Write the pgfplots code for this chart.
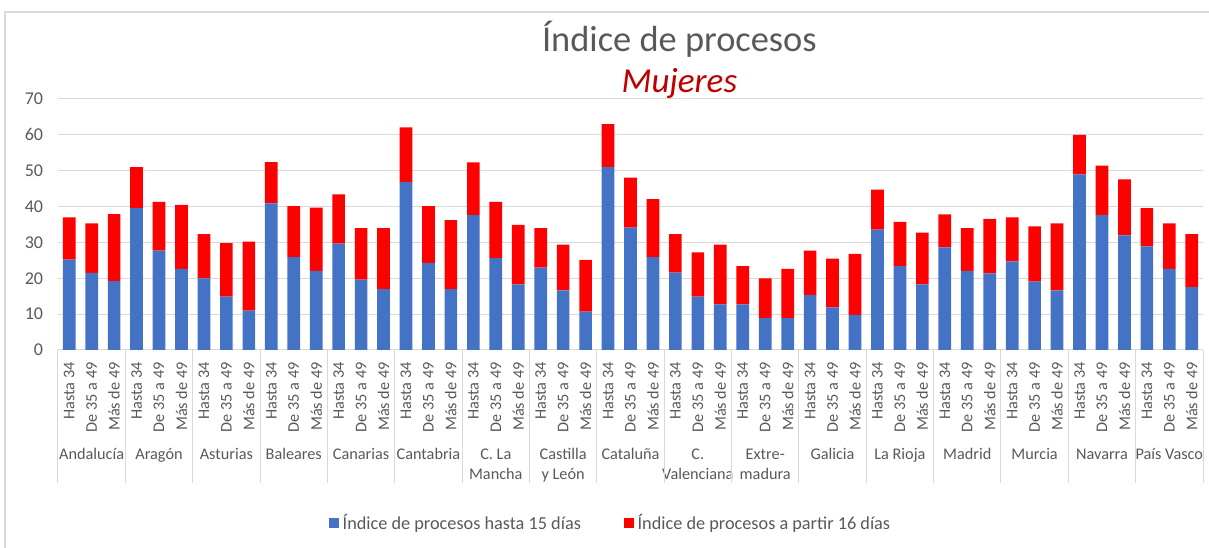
\documentclass[border=0pt]{standalone}
\usepackage{fontspec}
\setmainfont{Carlito}
\usepackage{pgfplots}
\usepackage{pgfplotstable}
\pgfplotsset{compat=1.18}
\definecolor{cblue}{HTML}{4472C4}
\definecolor{cred}{HTML}{FF0000}
\definecolor{cgrid}{HTML}{D9D9D9}
\definecolor{ctext}{HTML}{595959}
\definecolor{ctitle}{HTML}{C00000}
\tikzset{
  lab/.style={anchor=base, text=ctext, font=\fontsize{12.2}{14}\selectfont, yshift=-82pt},
  labb/.style={anchor=base, text=ctext, font=\fontsize{12.2}{14}\selectfont, yshift=-97pt},
}

\pgfplotstableread{
b r
25.2 11.8
21.5 13.8
19.2 18.7
39.6 11.4
27.7 13.6
22.6 17.9
20.0 12.3
14.9 14.9
11.0 19.2
40.9 11.5
25.9 14.2
22.1 17.6
29.7 13.7
19.6 14.4
17.0 17.0
46.8 15.3
24.3 15.8
17.0 19.2
37.6 14.7
25.6 15.7
18.3 16.6
23.0 11.0
16.6 12.8
10.7 14.4
51.1 11.9
34.1 14.0
25.9 16.2
21.6 10.7
14.9 12.3
12.7 16.7
12.7 10.7
8.9 11.1
8.9 13.7
15.3 12.4
11.9 13.6
9.8 17.0
33.6 11.1
23.4 12.3
18.3 14.4
28.6 9.2
22.1 11.9
21.4 15.2
24.7 12.3
19.1 15.4
16.6 18.7
49.0 11.0
37.6 13.8
32.0 15.6
28.9 10.7
22.6 12.7
17.5 14.8
}\datatable

\begin{document}
\begin{tikzpicture}
\useasboundingbox (-43.5pt,-148.5pt) rectangle (863.25pt,262.5pt);
\draw[cgrid, line width=1pt] (-39.75pt,-149pt) -- (-39.75pt,253.5pt) -- (864pt,253.5pt);
\node[anchor=base, text=ctext, font=\fontsize{27.3}{30}\selectfont] at (466pt,223.5pt) {Índice de procesos};
\node[anchor=base, text=ctitle, font=\fontsize{26.3}{30}\selectfont\itshape] at (466pt,192.75pt) {Mujeres};
\begin{axis}[
  at={(0,0)}, anchor=south west,
  scale only axis, width=858.75pt, height=188.25pt,
  ybar stacked, bar width=9.5pt,
  xmin=-0.5, xmax=50.5, ymin=0, ymax=70,
  enlargelimits=false, clip=false,
  axis line style={draw=none},
  major tick length=0pt,
  ymajorgrids, grid style={cgrid, line width=0.75pt},
  ytick={0,10,...,70},
  /pgf/number format/assume math mode=true,
  yticklabel style={font=\fontsize{13.5}{15}\selectfont, text=ctext, inner xsep=11pt},
  xtick={0,...,50},
  xticklabels={Hasta 34,De 35 a 49,Más de 49,Hasta 34,De 35 a 49,Más de 49,Hasta 34,De 35 a 49,Más de 49,Hasta 34,De 35 a 49,Más de 49,Hasta 34,De 35 a 49,Más de 49,Hasta 34,De 35 a 49,Más de 49,Hasta 34,De 35 a 49,Más de 49,Hasta 34,De 35 a 49,Más de 49,Hasta 34,De 35 a 49,Más de 49,Hasta 34,De 35 a 49,Más de 49,Hasta 34,De 35 a 49,Más de 49,Hasta 34,De 35 a 49,Más de 49,Hasta 34,De 35 a 49,Más de 49,Hasta 34,De 35 a 49,Más de 49,Hasta 34,De 35 a 49,Más de 49,Hasta 34,De 35 a 49,Más de 49,Hasta 34,De 35 a 49,Más de 49},
  xticklabel style={font=\fontsize{12.2}{14}\selectfont, text=ctext, rotate=90, anchor=east, inner xsep=9pt, inner ysep=0pt},
  legend columns=2,
  legend style={at={(0.4833,-0.689)}, anchor=center, draw=none, fill=none,
    font=\fontsize{13.7}{15}\selectfont, text=ctext,
    nodes={inner xsep=2.5pt},
    /tikz/every even column/.append style={column sep=30pt}},
  legend cell align=left,
]
\addplot[fill=cblue, draw=none, legend image code/.code={\fill[cblue] (0pt,-3.75pt) rectangle (7.5pt,3.75pt);}] table[x expr=\coordindex, y=b] {\datatable};
\addlegendentry{Índice de procesos hasta 15 días}
\addplot[fill=cred, draw=none, legend image code/.code={\fill[cred] (0pt,-3.75pt) rectangle (7.5pt,3.75pt);}] table[x expr=\coordindex, y=r] {\datatable};
\addlegendentry{Índice de procesos a partir 16 días}
\pgfplotsinvokeforeach{0,...,17}{\draw[cgrid, line width=0.75pt] (axis cs:{3*#1-0.5},0) -- ++(0pt,-99.75pt);}
\node[lab] at (axis cs:1,0) {Andalucía};
\node[lab] at (axis cs:4,0) {Aragón};
\node[lab] at (axis cs:7,0) {Asturias};
\node[lab] at (axis cs:10,0) {Baleares};
\node[lab] at (axis cs:13,0) {Canarias};
\node[lab] at (axis cs:16,0) {Cantabria};
\node[lab] at (axis cs:19,0) {C. La};
\node[labb] at (axis cs:19,0) {Mancha};
\node[lab] at (axis cs:22,0) {Castilla};
\node[labb] at (axis cs:22,0) {y León};
\node[lab] at (axis cs:25,0) {Cataluña};
\node[lab] at (axis cs:28,0) {C.};
\node[labb] at (axis cs:28,0) {Valenciana};
\node[lab] at (axis cs:31,0) {Extre-};
\node[labb] at (axis cs:31,0) {madura};
\node[lab] at (axis cs:34,0) {Galicia};
\node[lab] at (axis cs:37,0) {La Rioja};
\node[lab] at (axis cs:40,0) {Madrid};
\node[lab] at (axis cs:43,0) {Murcia};
\node[lab] at (axis cs:46,0) {Navarra};
\node[lab] at (axis cs:49,0) {País Vasco};
\end{axis}
\end{tikzpicture}
\end{document}
